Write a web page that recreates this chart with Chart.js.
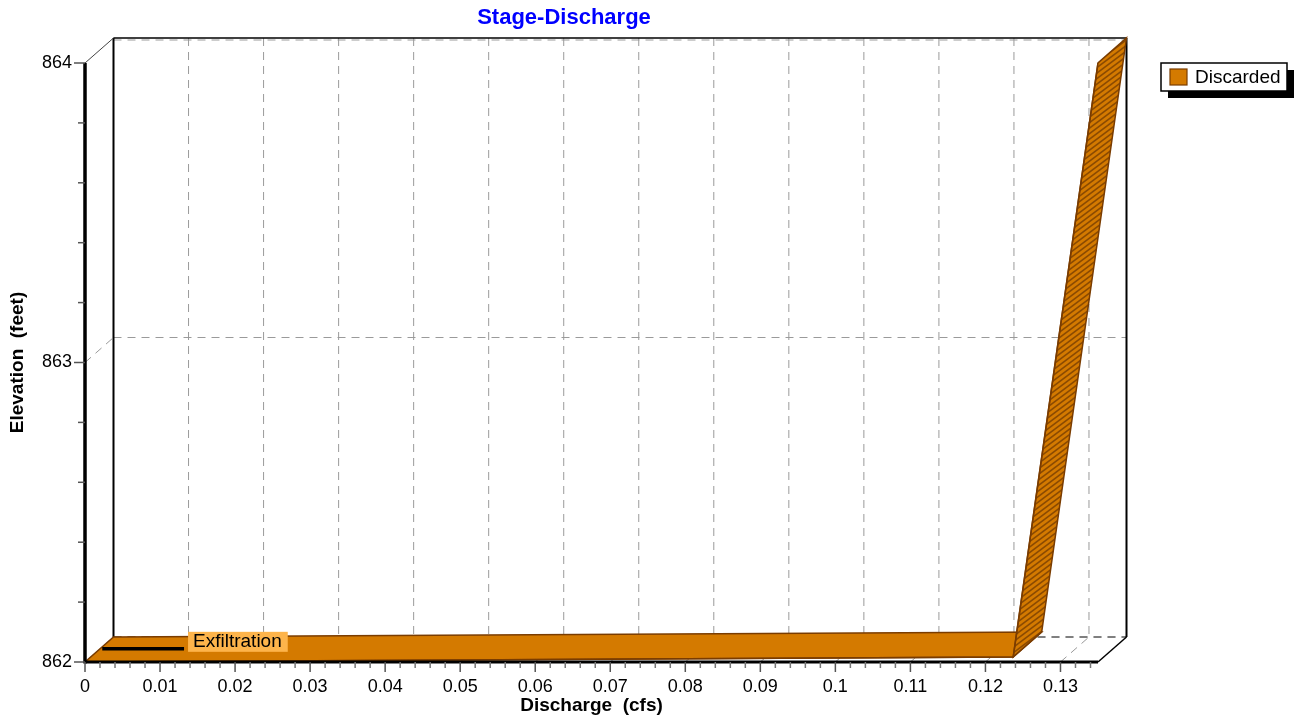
<!DOCTYPE html>
<html>
<head>
<meta charset="utf-8">
<title>Stage-Discharge</title>
<script src="https://cdn.jsdelivr.net/npm/chart.js@4.4.1/dist/chart.umd.min.js"></script>
<style>
    html, body { margin: 0; padding: 0; background: #fff; }
    #wrap { width: 1294px; height: 719px; }
</style>
</head>
<body>
<div id="wrap"><canvas id="stageChart" width="1294" height="719"></canvas></div>
<script>
// данные
const discardedQ = [0, 0.1237, 0.135];          // расход, cfs
const discardedElev = [862, 862.017, 864];      // отметка, ft
const exfilQ = [0.0023, 0.0132];
const exfilElev = [862.044, 862.044];
const xTicks = [0, 0.01, 0.02, 0.03, 0.04, 0.05, 0.06, 0.07, 0.08, 0.09, 0.1, 0.11, 0.12, 0.13];
const yTicks = [862, 863, 864];
const xMax = 0.135;

const FONT = '"Liberation Sans", Arial, sans-serif';
const ORANGE = '#D47A00';
const BROWN = '#7A3C00';
const DX = 28.5, DY = -25; // смещение задней стенки (псевдо-3D)

function line(ctx, x1, y1, x2, y2) {
    ctx.beginPath();
    ctx.moveTo(x1, y1);
    ctx.lineTo(x2, y2);
    ctx.stroke();
}

const box3d = {
    id: 'box3d',
    beforeDraw(chart) {
        const ctx = chart.ctx;
        ctx.save();
        ctx.fillStyle = '#fff';
        ctx.fillRect(0, 0, chart.width, chart.height);
        ctx.restore();
    },
    beforeDatasetsDraw(chart) {
        const { ctx, chartArea: a, scales: { x, y } } = chart;
        const topV = yTicks[yTicks.length - 1];
        ctx.save();

        // сетка на задней стенке и на полу
        ctx.strokeStyle = '#9a9a9a';
        ctx.lineWidth = 1;
        ctx.setLineDash([8, 6]);
        xTicks.forEach(v => {
            if (v === 0) return;
            const px = x.getPixelForValue(v);
            line(ctx, px + DX, a.top + DY, px + DX, a.bottom + DY);
            line(ctx, px, a.bottom, px + DX, a.bottom + DY);
        });
        yTicks.forEach(v => {
            const py = y.getPixelForValue(v);
            const off = v === topV ? 2 : 0;
            line(ctx, a.left + DX, py + DY + off, a.right + DX, py + DY + off);
            if (v !== topV) line(ctx, a.left, py, a.left + DX, py + DY);
        });
        ctx.strokeStyle = '#333';
        line(ctx, a.left + DX, a.bottom + DY, a.right + DX, a.bottom + DY);

        // рёбра коробки
        ctx.setLineDash([]);
        ctx.strokeStyle = '#000';
        ctx.lineWidth = 2;
        line(ctx, a.left + DX, a.top + DY, a.left + DX, a.bottom + DY);
        line(ctx, a.right + DX, a.top + DY, a.right + DX, a.bottom + DY);
        ctx.lineWidth = 1.5;
        line(ctx, a.left + DX, a.top + DY, a.right + DX, a.top + DY);
        line(ctx, a.right, a.bottom, a.right + DX, a.bottom + DY);
        ctx.strokeStyle = '#444';
        ctx.lineWidth = 1;
        line(ctx, a.left, a.top, a.left + DX, a.top + DY);

        // лента "Discarded"
        const pts = discardedQ.map((q, i) => ({ x: x.getPixelForValue(q), y: y.getPixelForValue(discardedElev[i]) }));
        for (let i = 0; i < pts.length - 1; i++) {
            const p = pts[i], q = pts[i + 1];
            const face = () => {
                ctx.beginPath();
                ctx.moveTo(p.x, p.y);
                ctx.lineTo(q.x, q.y);
                ctx.lineTo(q.x + DX, q.y + DY);
                ctx.lineTo(p.x + DX, p.y + DY);
                ctx.closePath();
            };
            face();
            ctx.fillStyle = ORANGE;
            ctx.fill();
            const steep = Math.abs(q.y - p.y) > Math.abs(q.x - p.x);
            if (steep) {
                // штриховка боковой грани
                ctx.save();
                ctx.clip();
                ctx.strokeStyle = '#8A4A00';
                ctx.lineWidth = 1.6;
                const minX = Math.min(p.x, q.x) - 5, maxX = Math.max(p.x, q.x) + DX + 5;
                const minY = Math.min(p.y, q.y) + DY - 80, maxY = Math.max(p.y, q.y) + 80;
                for (let yy = minY; yy < maxY; yy += 5.5) {
                    line(ctx, minX, yy, maxX, yy - 0.75 * (maxX - minX));
                }
                ctx.restore();
            }
            face();
            ctx.strokeStyle = BROWN;
            ctx.lineWidth = 1.5;
            ctx.stroke();
        }
        ctx.restore();
    },
    afterDatasetsDraw(chart) {
        const { ctx, chartArea: a, scales: { x, y } } = chart;
        ctx.save();

        // передние оси
        ctx.strokeStyle = '#000';
        ctx.lineWidth = 3.5;
        line(ctx, a.left, a.top, a.left, a.bottom + 1.5);
        ctx.lineWidth = 3;
        line(ctx, a.left, a.bottom, a.right, a.bottom);

        // засечки
        ctx.strokeStyle = '#555';
        ctx.lineWidth = 1.5;
        for (let i = 0; i < yTicks.length; i++) {
            const py = y.getPixelForValue(yTicks[i]);
            line(ctx, a.left - 11, py, a.left, py);
            if (i < yTicks.length - 1) {
                for (let k = 1; k < 5; k++) {
                    const pm = y.getPixelForValue(yTicks[i] + k * (yTicks[i + 1] - yTicks[i]) / 5);
                    line(ctx, a.left - 7, pm, a.left, pm);
                }
            }
        }
        for (let i = 0; i < xTicks.length; i++) {
            const px = x.getPixelForValue(xTicks[i]);
            ctx.strokeStyle = '#555';
            line(ctx, px, a.bottom, px, a.bottom + 10);
            const step = i < xTicks.length - 1 ? (xTicks[i + 1] - xTicks[i]) : (xTicks[1] - xTicks[0]);
            ctx.strokeStyle = '#777';
            for (let k = 1; k < 5; k++) {
                const v = xTicks[i] + k * step / 5;
                if (v > xMax) break;
                const pm = x.getPixelForValue(v);
                line(ctx, pm, a.bottom, pm, a.bottom + 6);
            }
        }

        // подпись Exfiltration
        const ex = x.getPixelForValue(exfilQ[exfilQ.length - 1]);
        const ey = y.getPixelForValue(exfilElev[exfilElev.length - 1]);
        ctx.font = '19px ' + FONT;
        const exW = ctx.measureText('Exfiltration').width;
        ctx.fillStyle = '#FDB44B';
        ctx.fillRect(ex + 4, ey - 17, exW + 11, 20);
        ctx.fillStyle = '#000';
        ctx.textAlign = 'left';
        ctx.textBaseline = 'middle';
        ctx.fillText('Exfiltration', ex + 9, ey - 7);

        // легенда
        const lx = 1161, ly = 63, lw = 126, lh = 28;
        ctx.fillStyle = '#000';
        ctx.fillRect(lx + 7, ly + 7, lw, lh);
        ctx.fillStyle = '#fff';
        ctx.fillRect(lx, ly, lw, lh);
        ctx.strokeStyle = '#000';
        ctx.lineWidth = 1.5;
        ctx.strokeRect(lx, ly, lw, lh);
        ctx.fillStyle = ORANGE;
        ctx.fillRect(lx + 9, ly + 6, 17, 16);
        ctx.strokeStyle = BROWN;
        ctx.lineWidth = 1.2;
        ctx.strokeRect(lx + 9, ly + 6, 17, 16);
        ctx.fillStyle = '#000';
        ctx.fillText(chart.data.datasets[0].label, lx + 34, ly + 15);

        // заголовки
        ctx.textAlign = 'center';
        ctx.fillStyle = '#0000FF';
        ctx.font = 'bold 22px ' + FONT;
        ctx.fillText('Stage-Discharge', 564, 18);
        ctx.fillStyle = '#000';
        ctx.font = 'bold 19px ' + FONT;
        ctx.fillText('Discharge  (cfs)', (a.left + a.right) / 2, 706);
        ctx.translate(18, (a.top + a.bottom) / 2);
        ctx.rotate(-Math.PI / 2);
        ctx.fillText('Elevation  (feet)', 0, 0);
        ctx.restore();
    }
};

const ctx = document.getElementById('stageChart').getContext('2d');
const chart = new Chart(ctx, {
    type: 'line',
    data: {
        datasets: [
            {
                label: 'Discarded',
                data: discardedQ.map((q, i) => ({ x: q, y: discardedElev[i] })),
                borderColor: BROWN,
                borderWidth: 1.5,
                pointRadius: 0,
                fill: false
            },
            {
                label: 'Exfiltration',
                data: exfilQ.map((q, i) => ({ x: q, y: exfilElev[i] })),
                borderColor: '#000',
                borderWidth: 3.5,
                pointRadius: 0,
                fill: false
            }
        ]
    },
    options: {
        responsive: false,
        animation: false,
        devicePixelRatio: 1,
        layout: { padding: { top: 63, right: 196, bottom: 0, left: 0 } },
        plugins: {
            legend: { display: false },
            title: { display: false },
            tooltip: { enabled: false }
        },
        scales: {
            x: {
                type: 'linear',
                min: 0,
                max: xMax,
                afterBuildTicks: s => { s.ticks = xTicks.map(v => ({ value: v })); },
                afterFit: s => { s.height = 57; },
                grid: { display: false, drawTicks: false },
                border: { display: false },
                ticks: {
                    color: '#000',
                    font: { family: FONT, size: 18 },
                    padding: 14,
                    maxRotation: 0,
                    autoSkip: false,
                    callback: v => String(v)
                }
            },
            y: {
                type: 'linear',
                min: 862,
                max: 864,
                afterBuildTicks: s => { s.ticks = yTicks.map(v => ({ value: v })); },
                afterFit: s => { s.width = 85; },
                grid: { display: false, drawTicks: false },
                border: { display: false },
                ticks: {
                    color: '#000',
                    font: { family: FONT, size: 18 },
                    padding: 13,
                    callback: v => String(v)
                }
            }
        }
    },
    plugins: [box3d]
});
</script>
</body>
</html>
